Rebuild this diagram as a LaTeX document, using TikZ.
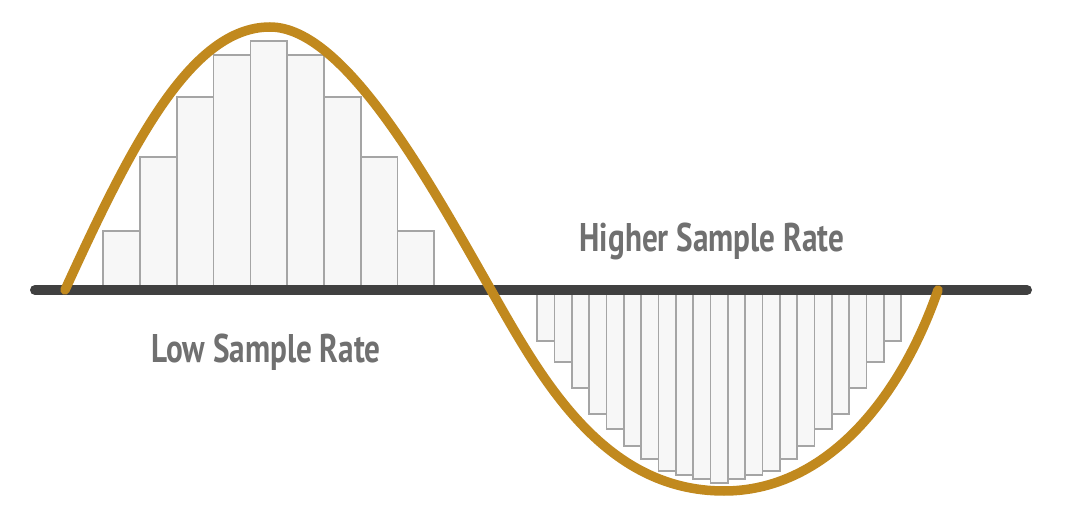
\documentclass[tikz,border=0pt]{standalone}
\usepackage{fontspec}
\newfontfamily\labelfont{PT Sans}[FakeStretch=0.78]
\definecolor{wave}{RGB}{193,137,30}
\definecolor{axisgray}{RGB}{64,64,64}
\definecolor{barfill}{RGB}{247,247,247}
\definecolor{barline}{RGB}{165,165,165}
\definecolor{txtgray}{RGB}{112,112,112}
\tikzset{
  barbox/.style={draw=barline, fill=barfill, line width=1.7pt},
  axisline/.style={draw=axisgray, line width=10pt, line cap=round},
  waveline/.style={draw=wave, line width=9.5pt, line cap=round, line join=round},
  lbl/.style={text=txtgray, font=\labelfont\bfseries\fontsize{40}{40}\selectfont, anchor=base, inner sep=0pt}
}
\begin{document}
\begin{tikzpicture}[x=1pt,y=-1pt]
\useasboundingbox (0,0) rectangle (1065,510);
\fill[white] (0,0) rectangle (1065,510);
% low sample rate bars
\foreach \t [count=\i from 0] in {230.7,156.7,96.7,55.3,40.7,55.3,96.7,156.7,230.7}{
  \path[barbox] ({103.3+\i*36.78},290) rectangle ({103.3+(\i+1)*36.78},\t);
}
% higher sample rate bars
\foreach \b [count=\i from 0] in {341,362.3,388.3,414.3,429.3,446,459.3,470.7,475,479.3,483.3,479.3,475,470.7,459.3,446,429.3,414.3,388.3,362.3,341}{
  \path[barbox] ({537.3+\i*17.333},290) rectangle ({537.3+(\i+1)*17.333},\b);
}
% axis
\coordinate (axL) at (35,290);
\coordinate (axR) at (1027,290);
\path[axisline] (axL) -- (axR);
% wave
\coordinate (w0) at (65,290);
\coordinate (wpeak) at (270,27);
\coordinate (wmid) at (491,290);
\coordinate (wtrough) at (724,491);
\coordinate (wend) at (938,290);
\path[waveline] (w0) .. controls (130,148) and (190,27) .. (wpeak)
  .. controls (345,27) and (430,183) .. (wmid)
  .. controls (540,376) and (602,491) .. (wtrough)
  .. controls (822,491) and (898,405) .. (wend);
% labels
\node[lbl] (high) at (712,251.7) {Higher Sample Rate};
\node[lbl] (low) at (266,362.7) {Low Sample Rate};
\end{tikzpicture}
\end{document}
